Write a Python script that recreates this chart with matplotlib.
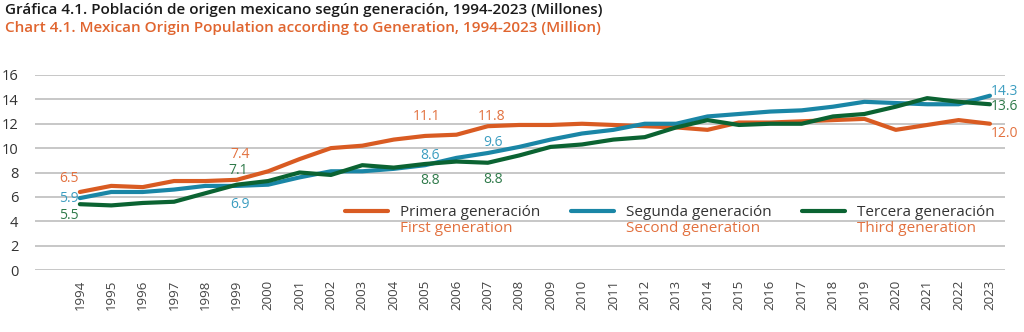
import matplotlib
matplotlib.use("Agg")
import matplotlib.pyplot as plt

plt.rcParams['font.family'] = ['Open Sans', 'DejaVu Sans']

years = list(range(1994, 2024))
primera = [6.4, 6.9, 6.8, 7.3, 7.3, 7.4, 8.1, 9.1, 10.0, 10.2, 10.7, 11.0, 11.1, 11.8, 11.9,
           11.9, 12.0, 11.9, 11.8, 11.7, 11.5, 12.1, 12.1, 12.2, 12.3, 12.4, 11.5, 11.9, 12.3, 12.0]
segunda = [5.9, 6.4, 6.4, 6.6, 6.9, 6.9, 7.0, 7.6, 8.1, 8.1, 8.3, 8.6, 9.2, 9.6, 10.1,
           10.7, 11.2, 11.5, 12.0, 12.0, 12.6, 12.8, 13.0, 13.1, 13.4, 13.8, 13.7, 13.6, 13.6, 14.3]
tercera = [5.4, 5.3, 5.5, 5.6, 6.3, 7.0, 7.3, 8.0, 7.8, 8.6, 8.4, 8.7, 8.9, 8.8, 9.4,
           10.1, 10.3, 10.7, 10.9, 11.7, 12.3, 11.9, 12.0, 12.0, 12.6, 12.8, 13.4, 14.1, 13.8, 13.6]

names_es = ['Primera generación', 'Segunda generación', 'Tercera generación']
names_en = ['First generation', 'Second generation', 'Third generation']

# labelled points: (series index, year, text)
point_labels = [
    (0, 1994, '6.5'), (1, 1994, '5.9'), (2, 1994, '5.5'),
    (0, 1999, '7.4'), (2, 1999, '7.1'), (1, 1999, '6.9'),
    (0, 2005, '11.1'), (0, 2007, '11.8'),
    (1, 2005, '8.6'), (1, 2007, '9.6'),
    (2, 2005, '8.8'), (2, 2007, '8.8'),
    (1, 2023, '14.3'), (2, 2023, '13.6'), (0, 2023, '12.0'),
]

line_colors = ['#D95B22', '#1A86A6', '#0B6332']
text_colors = ['#E2713F', '#3C9DC0', '#2F7A4A']
orange_txt = '#E2713F'

fig = plt.figure(figsize=(10.24, 3.32), dpi=100)
ax = fig.add_axes([35/1024, 1-270/332, 970/1024, 195/332])

series = [primera, segunda, tercera]
handles = []
for s, c in zip(series, line_colors):
    h, = ax.plot(years, s, color=c, lw=3.0, solid_capstyle='round', zorder=3)
    handles.append(h)

ax.set_xlim(1992.57, 2023.48)
ax.set_ylim(0, 16)
ax.set_yticks(range(0, 17, 2))
ax.set_xticks(years)
ax.set_xticklabels([str(y) for y in years], rotation=90)
ax.tick_params(axis='y', length=0, pad=12, labelsize=10.5, labelcolor='#333333')
ax.tick_params(axis='x', length=0, pad=7, labelsize=9.5, labelcolor='#444444')
ax.grid(axis='y', color='#BDBDBD', lw=1.2)
ax.set_axisbelow(True)
for sp in ax.spines.values():
    sp.set_visible(False)

# offsets in pixels (dx, dy) relative to data point, and alignment
offsets = {
    (0, 1994): (-11, 14, 'center'), (1, 1994): (-11, 0, 'center'), (2, 1994): (-11, -11, 'center'),
    (0, 1999): (3, 25, 'center'), (2, 1999): (1, 14, 'center'), (1, 1999): (3, -19, 'center'),
    (0, 2005): (2, 19, 'center'), (0, 2007): (4, 10, 'center'),
    (1, 2005): (5, 10, 'center'), (1, 2007): (5, 10, 'center'),
    (2, 2005): (5, -17, 'center'), (2, 2007): (5, -17, 'center'),
    (1, 2023): (1, 4, 'left'), (2, 2023): (1, -2, 'left'), (0, 2023): (1, -10, 'left'),
}
for si, yr, txt in point_labels:
    dx, dy, ha = offsets[(si, yr)]
    val = series[si][years.index(yr)]
    ax.annotate(txt, xy=(yr, val), xytext=(dx*0.72, dy*0.72), textcoords='offset points',
                ha=ha, va='center', fontsize=10, color=text_colors[si], zorder=4)

leg = ax.legend(handles, names_es, ncol=3, loc='center left', bbox_to_anchor=(310/970, (270-213)/195),
                frameon=False, fontsize=11, handlelength=2.8, handletextpad=0.8,
                columnspacing=2.0, borderaxespad=0, borderpad=0)
for t in leg.get_texts():
    t.set_color('#333333')

fig.canvas.draw()
r = fig.canvas.get_renderer()
inv = fig.transFigure.inverted()
for t, en in zip(leg.get_texts(), names_en):
    bb = t.get_window_extent(r)
    x0, y0 = inv.transform((bb.x0, bb.y0))
    fig.text(x0, 1-229/332, en, ha='left', va='center', fontsize=11, color=orange_txt)

fig.text(5/1024, 1-10/332, 'Gráfica 4.1. Población de origen mexicano según generación, 1994-2023 (Millones)',
         ha='left', va='center', fontsize=11, fontweight='semibold', color='#1a1a1a')
fig.text(5/1024, 1-28/332, 'Chart 4.1. Mexican Origin Population according to Generation, 1994-2023 (Million)',
         ha='left', va='center', fontsize=11, fontweight='semibold', color='#E0652F')

fig.savefig('out.png', dpi=100)
